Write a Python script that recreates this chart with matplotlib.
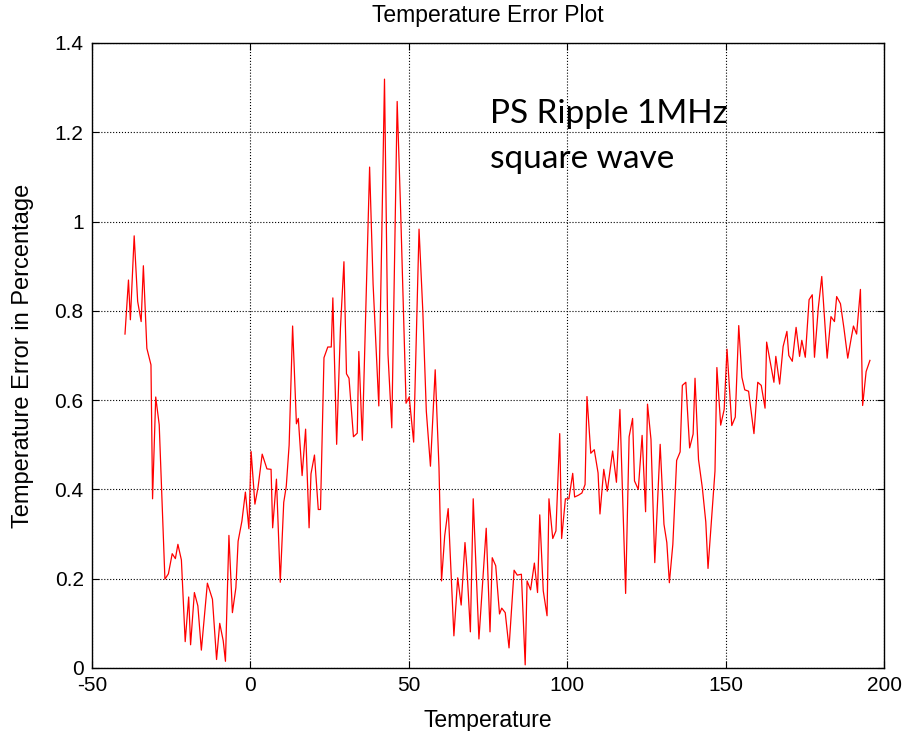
import numpy as np
import matplotlib
matplotlib.use('Agg')
import matplotlib.pyplot as plt

plt.rcParams['font.family'] = ['Liberation Sans', 'DejaVu Sans']
plt.rcParams['axes.unicode_minus'] = False

# temperature (deg) and error (%)
temperature = [-39.6, -38.5, -37.9, -36.7, -35.6, -34.5, -33.8, -32.7, -31.4, -30.9,
               -29.9, -28.8, -27.0, -25.9, -24.7, -23.7, -22.9, -21.8, -20.6, -19.5,
               -18.9, -17.7, -16.6, -15.5, -13.6, -12.0, -10.7, -9.7, -8.6, -7.9,
               -6.8, -5.7, -4.6, -3.9, -2.7, -1.6, -0.5, 0.2, 1.4, 2.4,
               3.7, 5.2, 6.5, 7.0, 8.2, 9.4, 10.5, 11.3, 12.2, 13.3,
               14.5, 15.1, 16.3, 17.4, 18.5, 19.1, 20.2, 21.4, 22.1, 23.2,
               24.4, 25.5, 26.0, 27.2, 28.4, 29.5, 30.3, 31.1, 32.5, 33.7,
               34.2, 35.3, 37.6, 38.7, 40.5, 42.3, 43.4, 44.6, 46.3, 47.4,
               49.1, 50.1, 51.5, 53.2, 54.4, 55.5, 56.8, 58.3, 59.5, 60.3,
               61.3, 62.4, 64.2, 65.4, 66.5, 67.7, 68.3, 69.4, 70.3, 72.1,
               73.3, 74.4, 75.6, 76.3, 77.4, 78.6, 79.3, 80.4, 81.6, 83.2,
               84.2, 85.5, 86.7, 87.3, 88.4, 89.6, 90.6, 91.3, 92.4, 93.6,
               94.2, 95.4, 96.4, 97.6, 98.2, 99.4, 100.5, 101.7, 102.3, 103.5,
               104.6, 105.6, 106.2, 107.4, 108.5, 109.7, 110.3, 111.5, 112.6, 114.3,
               115.5, 116.6, 118.4, 119.5, 120.6, 121.2, 122.4, 123.6, 124.7, 125.3,
               126.4, 127.6, 129.3, 130.5, 131.4, 132.2, 133.3, 134.5, 135.6, 136.3,
               137.4, 138.6, 139.7, 140.3, 141.4, 142.6, 143.7, 144.4, 145.5, 146.6,
               147.2, 148.4, 149.5, 150.4, 151.3, 151.9, 153.0, 154.1, 155.1, 156.0,
               157.2, 158.9, 160.1, 161.2, 162.4, 162.9, 164.1, 165.2, 165.8, 167.0,
               168.1, 169.3, 169.9, 171.0, 172.2, 173.3, 174.0, 175.1, 176.3, 177.3,
               178.0, 179.2, 180.3, 182.0, 183.2, 184.3, 185.0, 186.2, 187.3, 188.5,
               189.6, 190.3, 191.3, 192.5, 193.2, 194.3, 195.5]
error_pct = [0.748, 0.869, 0.780, 0.968, 0.821, 0.776, 0.901, 0.716, 0.679, 0.379,
             0.607, 0.545, 0.199, 0.211, 0.256, 0.245, 0.277, 0.242, 0.059, 0.159,
             0.052, 0.169, 0.139, 0.040, 0.190, 0.154, 0.019, 0.100, 0.061, 0.015,
             0.297, 0.124, 0.180, 0.284, 0.329, 0.394, 0.312, 0.485, 0.367, 0.405,
             0.479, 0.446, 0.445, 0.314, 0.423, 0.192, 0.371, 0.407, 0.499, 0.766,
             0.547, 0.559, 0.431, 0.535, 0.314, 0.435, 0.477, 0.355, 0.355, 0.695,
             0.719, 0.719, 0.829, 0.501, 0.762, 0.910, 0.659, 0.649, 0.518, 0.526,
             0.709, 0.510, 1.122, 0.860, 0.587, 1.319, 0.703, 0.538, 1.269, 1.022,
             0.593, 0.607, 0.506, 0.983, 0.798, 0.575, 0.452, 0.668, 0.448, 0.195,
             0.296, 0.357, 0.072, 0.202, 0.141, 0.281, 0.225, 0.081, 0.379, 0.065,
             0.195, 0.313, 0.081, 0.247, 0.229, 0.121, 0.134, 0.124, 0.045, 0.219,
             0.208, 0.210, 0.007, 0.195, 0.175, 0.235, 0.169, 0.343, 0.173, 0.117,
             0.379, 0.290, 0.307, 0.525, 0.290, 0.379, 0.379, 0.436, 0.383, 0.387,
             0.392, 0.411, 0.608, 0.481, 0.489, 0.437, 0.345, 0.445, 0.396, 0.486,
             0.416, 0.579, 0.167, 0.518, 0.559, 0.419, 0.400, 0.521, 0.350, 0.591,
             0.512, 0.236, 0.501, 0.322, 0.281, 0.191, 0.277, 0.465, 0.484, 0.633,
             0.640, 0.493, 0.524, 0.649, 0.467, 0.404, 0.327, 0.223, 0.333, 0.441,
             0.673, 0.544, 0.579, 0.714, 0.612, 0.543, 0.562, 0.767, 0.651, 0.623,
             0.620, 0.525, 0.640, 0.633, 0.582, 0.730, 0.683, 0.640, 0.698, 0.636,
             0.720, 0.754, 0.700, 0.687, 0.763, 0.698, 0.734, 0.696, 0.825, 0.836,
             0.696, 0.806, 0.877, 0.694, 0.787, 0.776, 0.832, 0.816, 0.761, 0.694,
             0.739, 0.766, 0.748, 0.848, 0.588, 0.664, 0.689]

xticks = [-50, 0, 50, 100, 150, 200]
yticks = [0, 0.2, 0.4, 0.6, 0.8, 1, 1.2, 1.4]
ytick_labels = ['0', '0.2', '0.4', '0.6', '0.8', '1', '1.2', '1.4']

fig = plt.figure(figsize=(9.05, 7.31), dpi=100)
ax = fig.add_axes([0.1017, 0.0862, 0.8753, 0.8550])

ax.plot(temperature, error_pct, color='red', linewidth=0.9)

ax.set_xlim(-50, 200)
ax.set_ylim(0, 1.4)
ax.set_xticks(xticks)
ax.set_yticks(yticks)
ax.set_yticklabels(ytick_labels)
ax.grid(True, color='black', linestyle=':', linewidth=0.8)
ax.tick_params(direction='in', top=True, right=True, length=5, labelsize=15, pad=6)
for s in ax.spines.values():
    s.set_linewidth(1.0)

ax.set_title('Temperature Error Plot', fontsize=16.5, pad=15)
ax.set_xlabel('Temperature', fontsize=16.5, labelpad=10)
ax.set_ylabel('Temperature Error in Percentage', fontsize=17, labelpad=15)

ax.text(75.5, 1.275, 'PS Ripple 1MHz\nsquare wave', fontsize=24, family=['Lato', 'DejaVu Sans'],
        va='top', ha='left', linespacing=1.65)

fig.savefig('out.png', dpi=100)
